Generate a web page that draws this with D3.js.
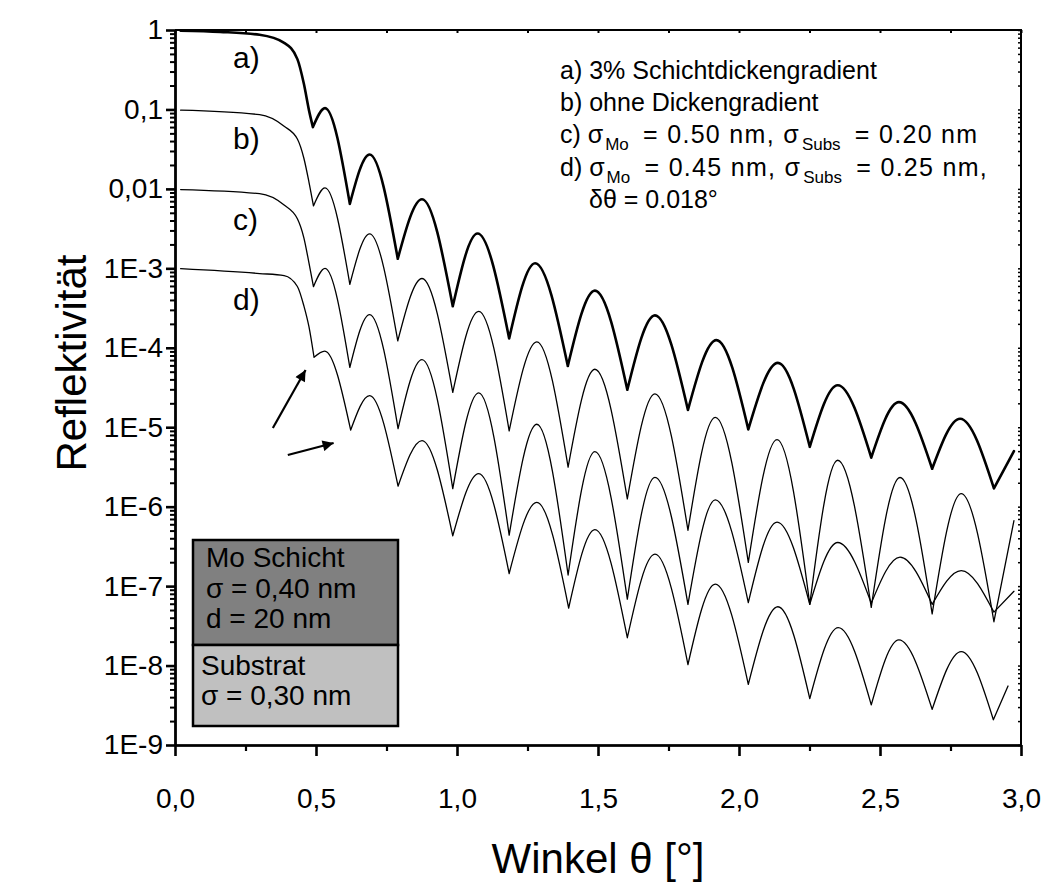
<!DOCTYPE html>
<html>
<head>
<meta charset="utf-8">
<script src="https://cdn.jsdelivr.net/npm/d3@7"></script>
<style>
  body { margin: 0; background: #fff; }
  svg text { font-family: "Liberation Sans", Arial, sans-serif; fill: #000; }
</style>
</head>
<body>
<svg id="chart" width="1049" height="888"></svg>
<script>
// Axis ticks and labels
const xTicks = [0, 0.5, 1.0, 1.5, 2.0, 2.5, 3.0];
const xTickLabels = ["0,0", "0,5", "1,0", "1,5", "2,0", "2,5", "3,0"];
const xMinorTicks = [0.25, 0.75, 1.25, 1.75, 2.25, 2.75];
const yTicks = [1, 0.1, 0.01, 1e-3, 1e-4, 1e-5, 1e-6, 1e-7, 1e-8, 1e-9];
const yTickLabels = ["1", "0,1", "0,01", "1E-3", "1E-4", "1E-5", "1E-6", "1E-7", "1E-8", "1E-9"];

// a) 3% Schichtdickengradient (angle in degrees, reflectivity)
const thetaA = [0.02, 0.16, 0.30, 0.387, 0.434, 0.457, 0.475, 0.489, 0.532, 0.620, 0.690, 0.790, 0.876, 0.985, 1.073, 1.185, 1.277, 1.393, 1.489, 1.604, 1.702, 1.819, 1.920, 2.033, 2.138, 2.251, 2.350, 2.469, 2.567, 2.685, 2.784, 2.904, 2.975];
const reflA = [0.98, 0.946, 0.87, 0.69, 0.43, 0.21, 0.098, 0.060, 0.104, 6.48e-3, 0.0271, 1.32e-3, 7.41e-3, 3.33e-4, 2.74e-3, 1.31e-4, 1.16e-3, 5.9e-5, 5.24e-4, 2.96e-5, 2.56e-4, 1.65e-5, 1.25e-4, 9.4e-6, 6.46e-5, 5.67e-6, 3.38e-5, 4.15e-6, 2.07e-5, 3.0e-6, 1.28e-5, 1.7e-6, 5.0e-6];

// b) ohne Dickengradient
const thetaB = [0.02, 0.30, 0.387, 0.434, 0.457, 0.475, 0.491, 0.532, 0.620, 0.690, 0.790, 0.876, 0.985, 1.077, 1.185, 1.283, 1.394, 1.489, 1.604, 1.702, 1.819, 1.916, 2.033, 2.135, 2.251, 2.350, 2.469, 2.571, 2.685, 2.788, 2.904, 2.975];
const reflB = [0.098, 0.086, 0.0615, 0.0424, 0.0243, 0.0122, 6.1e-3, 0.0103, 6.3e-4, 2.72e-3, 1.22e-4, 7.45e-4, 2.74e-5, 2.87e-4, 9.0e-6, 1.19e-4, 3.15e-6, 5.37e-5, 1.25e-6, 2.63e-5, 5.05e-7, 1.33e-5, 1.99e-7, 7.0e-6, 5.9e-8, 3.84e-6, 5.4e-8, 2.33e-6, 4.48e-8, 1.46e-6, 3.56e-8, 6.65e-7];

// c) sigma_Mo = 0.50 nm, sigma_Subs = 0.20 nm
const thetaC = [0.02, 0.30, 0.387, 0.434, 0.457, 0.475, 0.491, 0.532, 0.620, 0.690, 0.791, 0.876, 0.985, 1.077, 1.185, 1.283, 1.394, 1.489, 1.604, 1.702, 1.819, 1.916, 2.033, 2.135, 2.251, 2.350, 2.469, 2.571, 2.685, 2.788, 2.904, 2.975];
const reflC = [9.8e-3, 8.7e-3, 6.25e-3, 4.2e-3, 2.42e-3, 1.17e-3, 5.88e-4, 1.0e-3, 5.66e-5, 2.62e-4, 9.6e-6, 7.09e-5, 1.69e-6, 2.71e-5, 4.39e-7, 1.09e-5, 1.38e-7, 4.92e-6, 6.84e-8, 2.34e-6, 5.9e-8, 1.22e-6, 6.2e-8, 6.4e-7, 5.9e-8, 3.54e-7, 6.1e-8, 2.32e-7, 5.9e-8, 1.57e-7, 4.7e-8, 8.6e-8];

// d) sigma_Mo = 0.45 nm, sigma_Subs = 0.25 nm, delta theta = 0.018 deg
const thetaD = [0.02, 0.30, 0.387, 0.434, 0.457, 0.475, 0.493, 0.531, 0.623, 0.690, 0.791, 0.876, 0.985, 1.077, 1.185, 1.283, 1.396, 1.489, 1.604, 1.702, 1.819, 1.916, 2.033, 2.138, 2.251, 2.352, 2.469, 2.567, 2.685, 2.788, 2.902, 2.954];
const reflD = [9.9e-4, 8.6e-4, 8.1e-4, 5.9e-4, 3.37e-4, 1.84e-4, 7.6e-5, 9.1e-5, 9.2e-6, 2.5e-5, 1.81e-6, 6.8e-6, 4.3e-7, 2.61e-6, 1.44e-7, 1.13e-6, 5.3e-8, 5.15e-7, 2.24e-8, 2.52e-7, 1.03e-8, 1.06e-7, 5.8e-9, 5.5e-8, 3.84e-9, 3.0e-8, 3.2e-9, 2.1e-8, 2.81e-9, 1.5e-8, 2.08e-9, 5.53e-9];

const curveLabels = ["a)", "b)", "c)", "d)"];

const svg = d3.select("#chart");
const plotLeft = 175, plotRight = 1021, plotTop = 30, plotBottom = 745;

const x = d3.scaleLinear().domain([0, 3]).range([plotLeft, plotRight]);
const y = d3.scaleLog().domain([1e-9, 1]).range([plotBottom, plotTop]);

// plot frame (top and right sides)
svg.append("path")
  .attr("d", `M${plotLeft},${plotTop}H${plotRight}V${plotBottom}`)
  .attr("fill", "none").attr("stroke", "#000").attr("stroke-width", 2);

// ---- curves ----
// each curve is drawn as min-to-min arches so the minima stay sharp cusps
const series = [
  { theta: thetaA, refl: reflA, width: 2.6 },
  { theta: thetaB, refl: reflB, width: 1.3 },
  { theta: thetaC, refl: reflC, width: 1.3 },
  { theta: thetaD, refl: reflD, width: 1.3 }
];
const line = d3.line().x(d => x(d[0])).y(d => y(d[1])).curve(d3.curveMonotoneX);
series.forEach(s => {
  const pts = s.theta.map((t, i) => [t, s.refl[i]]);
  const cuts = [0];
  for (let i = 1; i < pts.length - 1; i++) {
    if (pts[i][1] < pts[i - 1][1] && pts[i][1] < pts[i + 1][1]) cuts.push(i);
  }
  cuts.push(pts.length - 1);
  let d = "";
  for (let k = 0; k < cuts.length - 1; k++) d += line(pts.slice(cuts[k], cuts[k + 1] + 1));
  svg.append("path").attr("d", d)
    .attr("fill", "none").attr("stroke", "#000")
    .attr("stroke-width", s.width).attr("stroke-linejoin", "round").attr("stroke-linecap", "round");
});

// ---- axes ----
function styleAxis(g, w) {
  g.select(".domain").attr("stroke-width", w);
  g.selectAll(".tick line").attr("stroke-width", w);
  g.selectAll(".tick text").attr("font-size", 28).attr("font-family", "Liberation Sans, Arial, sans-serif");
}
const gxMinor = svg.append("g").attr("transform", `translate(0,${plotBottom})`)
  .call(d3.axisBottom(x).tickValues(xMinorTicks).tickFormat(() => "").tickSizeInner(6).tickSizeOuter(0));
styleAxis(gxMinor, 2.2);
const gx = svg.append("g").attr("transform", `translate(0,${plotBottom})`)
  .call(d3.axisBottom(x).tickValues(xTicks).tickFormat((d, i) => xTickLabels[i]).tickSizeInner(11).tickSizeOuter(0).tickPadding(32));
styleAxis(gx, 2.6);

const yMinor = [];
yTicks.slice(1).forEach(t => { for (let k = 2; k <= 9; k++) yMinor.push(t * k); });
const gyMinor = svg.append("g").attr("transform", `translate(${plotLeft},0)`)
  .call(d3.axisLeft(y).tickValues(yMinor).tickFormat(() => "").tickSizeInner(5).tickSizeOuter(0));
styleAxis(gyMinor, 2);
const gy = svg.append("g").attr("transform", `translate(${plotLeft},0)`)
  .call(d3.axisLeft(y).tickValues(yTicks).tickFormat((d, i) => yTickLabels[i]).tickSizeInner(9).tickSizeOuter(0).tickPadding(3));
styleAxis(gy, 2.6);

// small inward ticks on the mirrored top and right axes
const gTop = svg.append("g").attr("transform", `translate(0,${plotTop})`)
  .call(d3.axisBottom(x).tickValues(xTicks.concat(xMinorTicks)).tickFormat(() => "").tickSizeInner(3).tickSizeOuter(0));
gTop.select(".domain").remove();
gTop.selectAll(".tick line").attr("stroke-width", 2);
const gRight = svg.append("g").attr("transform", `translate(${plotRight},0)`)
  .call(d3.axisLeft(y).tickValues(yTicks.concat(yMinor)).tickFormat(() => "").tickSizeInner(3).tickSizeOuter(0));
gRight.select(".domain").remove();
gRight.selectAll(".tick line").attr("stroke-width", 1.5);

// axis titles
svg.append("text").attr("x", (plotLeft + plotRight) / 2).attr("y", 873)
  .attr("text-anchor", "middle").attr("font-size", 42).text("Winkel θ [°]");
svg.append("text").attr("transform", "translate(86,363) rotate(-90)")
  .attr("text-anchor", "middle").attr("font-size", 42).text("Reflektivität");

// curve labels
const labelY = [68, 149, 230, 310];
curveLabels.forEach((t, i) => {
  svg.append("text").attr("x", 233).attr("y", labelY[i]).attr("font-size", 30).text(t);
});

// arrows pointing at the first fringes of curve d
const defs = svg.append("defs");
defs.append("marker").attr("id", "arrowhead").attr("viewBox", "0 0 10 10")
  .attr("refX", 10).attr("refY", 5).attr("markerWidth", 6.5).attr("markerHeight", 5)
  .attr("markerUnits", "strokeWidth").attr("orient", "auto")
  .append("path").attr("d", "M0,0L10,5L0,10Z").attr("fill", "#000");
const arrows = [
  [[0.347, 9.8e-6], [0.463, 5.25e-5]],
  [[0.400, 4.47e-6], [0.5625, 6.33e-6]]
];
arrows.forEach(a => {
  svg.append("line")
    .attr("x1", x(a[0][0])).attr("y1", y(a[0][1]))
    .attr("x2", x(a[1][0])).attr("y2", y(a[1][1]))
    .attr("stroke", "#000").attr("stroke-width", 2.2).attr("marker-end", "url(#arrowhead)");
});

// legend text block with subscripts
function note(yPos, parts, xPos) {
  const t = svg.append("text").attr("x", xPos || 560).attr("y", yPos).attr("font-size", 25);
  let lowered = false;
  parts.forEach(p => {
    if (typeof p === "string") {
      const s = t.append("tspan").attr("dy", lowered ? -7 : 0).attr("dx", lowered ? 6 : 0).text(p);
      if (lowered) s.attr("letter-spacing", 1.3);
      lowered = false;
    } else {
      t.append("tspan").attr("font-size", 17).attr("dx", 2).attr("dy", 7).attr("letter-spacing", 0).text(p.sub);
      lowered = true;
    }
  });
}
note(79, ["a) 3% Schichtdickengradient"]);
note(111, ["b) ohne Dickengradient"]);
note(143, ["c) σ", { sub: "Mo" }, " = 0.50 nm, σ", { sub: "Subs" }, " = 0.20 nm"]);
note(176, ["d) σ", { sub: "Mo" }, " = 0.45 nm, σ", { sub: "Subs" }, " = 0.25 nm,"]);
note(208, ["δθ = 0.018°"], 589);

// layer stack sketch
const box = svg.append("g");
box.append("rect").attr("x", 193).attr("y", 540).attr("width", 205).attr("height", 105)
  .attr("fill", "#808080").attr("stroke", "#000").attr("stroke-width", 2.5);
box.append("rect").attr("x", 193).attr("y", 645).attr("width", 205).attr("height", 81)
  .attr("fill", "#c0c0c0").attr("stroke", "#000").attr("stroke-width", 2.5);
const boxLines = [
  [206, 567, "Mo Schicht"], [206, 598, "σ = 0,40 nm"], [206, 628, "d = 20 nm"],
  [201, 675, "Substrat"], [201, 705, "σ = 0,30 nm"]
];
boxLines.forEach(b => box.append("text").attr("x", b[0]).attr("y", b[1]).attr("font-size", 28).text(b[2]));
</script>
</body>
</html>
